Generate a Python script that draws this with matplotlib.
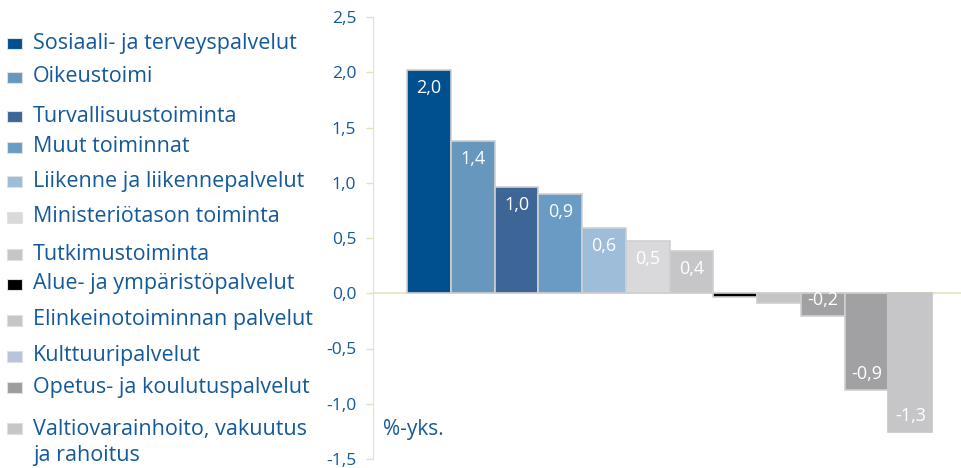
import matplotlib.pyplot as plt
from matplotlib.patches import Rectangle

plt.rcParams['font.family'] = ['Open Sans', 'DejaVu Sans']

# data
categories = ['Sosiaali- ja terveyspalvelut', 'Oikeustoimi', 'Turvallisuustoiminta',
              'Muut toiminnat', 'Liikenne ja liikennepalvelut', 'Ministeriötason toiminta',
              'Tutkimustoiminta', 'Alue- ja ympäristöpalvelut', 'Elinkeinotoiminnan palvelut',
              'Kulttuuripalvelut', 'Opetus- ja koulutuspalvelut',
              'Valtiovarainhoito, vakuutus\nja rahoitus']
values = [2.02, 1.38, 0.96, 0.90, 0.59, 0.47, 0.38, -0.03, -0.09, -0.21, -0.88, -1.26]
yticks = [-1.5, -1.0, -0.5, 0.0, 0.5, 1.0, 1.5, 2.0, 2.5]
unit = '%-yks.'

# colours
bar_colors = ['#00508f', '#6897be', '#3d6595', '#6a9bc4', '#9dbdd9', '#d9d9db',
              '#c6c6c8', '#000000', '#c4c4c6', '#a1a1a3', '#a1a1a3', '#c6c6c8']
leg_colors = ['#00508f', '#6897be', '#3d6595', '#6a9bc4', '#9dbdd9', '#d9d9db',
              '#c6c6c8', '#000000', '#c6c6c8', '#b8c4dc', '#9d9d9f', '#c6c6c8']
txt_blue = '#14599a'
axis_col = '#dfe5c4'

W, H = 961, 468
fig = plt.figure(figsize=(W / 100, H / 100), dpi=100)
ax = fig.add_axes([373 / W, 9 / H, (W - 373) / W, 442 / H])

x = list(range(len(values)))
bars = ax.bar(x, values, width=1.0, color=bar_colors, edgecolor='#cfcfd1', linewidth=1.2)
bars[-1].set_edgecolor(bar_colors[-1])

# value labels inside the bars
for xi, v in zip(x, values):
    if abs(v) < 0.15:
        continue
    lab = f'{v:.1f}'.replace('.', ',')
    off = -18 if v > 0 else 16
    ax.annotate(lab, (xi, v), xytext=(0, off), textcoords='offset pixels',
                ha='center', va='center', color='white', fontsize=13)

ax.axhline(0, color=axis_col, lw=1.2, zorder=0)
ax.set_ylim(-1.5, 2.5)
ax.set_xlim(-1.28, 12.16)
ax.set_yticks(yticks)
ax.set_yticklabels([f'{t:.1f}'.replace('.', ',') for t in yticks])
ax.tick_params(axis='y', colors=axis_col, labelcolor=txt_blue, labelsize=12.5,
               length=5, width=1, pad=7)
ax.set_xticks([])
for s in ['top', 'right', 'bottom']:
    ax.spines[s].set_visible(False)
ax.spines['left'].set_color(axis_col)
ax.patch.set_alpha(0)

fig.text(383 / W, 1 - 429 / H, unit, fontsize=15, color=txt_blue, va='center', ha='left')

# legend drawn by hand
leg_y = [43, 77, 116, 147, 181, 217, 254, 284, 320, 356, 387, 428]
for name, col, yy in zip(categories, leg_colors, leg_y):
    fig.patches.append(Rectangle((7 / W, 1 - (yy + 6) / H), 15 / W, 11 / H,
                                 transform=fig.transFigure, facecolor=col,
                                 edgecolor='#e0e0e0', lw=0.8))
    if '\n' in name:
        fig.text(33 / W, 1 - (yy - 9) / H, name, fontsize=15.5, color=txt_blue,
                 va='top', ha='left', linespacing=1.3)
    else:
        fig.text(33 / W, 1 - yy / H, name, fontsize=15.5, color=txt_blue,
                 va='center', ha='left')

fig.savefig('out.png', dpi=100)
